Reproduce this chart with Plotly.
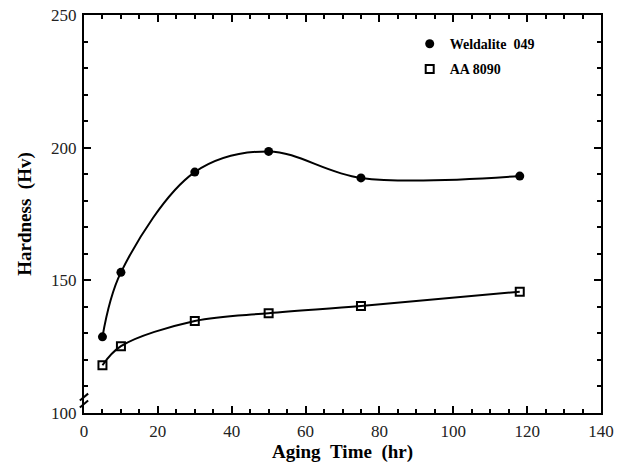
import plotly.graph_objects as go

aging_time = [5, 10, 30, 50, 75, 118]
weldalite_049 = [128.7, 153.0, 190.8, 198.6, 188.6, 189.3]
aa_8090 = [118.0, 125.2, 134.7, 137.6, 140.3, 145.7]

x_ticks = [0, 20, 40, 60, 80, 100, 120, 140]
y_ticks = [100, 150, 200, 250]

font_family = "Liberation Serif"
NB = "\u00a0"

fig = go.Figure()

# smooth curves
fig.add_trace(go.Scatter(x=aging_time, y=weldalite_049, mode="lines",
                         line=dict(color="black", width=2, shape="spline", smoothing=1.0),
                         showlegend=False, hoverinfo="skip"))
fig.add_trace(go.Scatter(x=aging_time, y=aa_8090, mode="lines",
                         line=dict(color="black", width=2, shape="spline", smoothing=1.0),
                         showlegend=False, hoverinfo="skip"))
# markers
fig.add_trace(go.Scatter(x=aging_time, y=weldalite_049, mode="markers",
                         name="<b>Weldalite" + NB + NB + "049</b>",
                         legendgroup="a",
                         marker=dict(symbol="circle", size=9, color="black")))
fig.add_trace(go.Scatter(x=aging_time, y=aa_8090, mode="markers",
                         name="<b>AA 8090</b>",
                         legendgroup="b",
                         marker=dict(symbol="square-open", size=8, color="black",
                                     line=dict(width=2, color="black"))))

axis_common = dict(showline=True, linecolor="black", linewidth=2, mirror="allticks",
                   ticks="inside", ticklen=7, tickwidth=2, tickcolor="black",
                   showgrid=False, zeroline=False, automargin=False,
                   tickfont=dict(family=font_family, size=17, color="#222"))

fig.update_xaxes(range=[0, 140], tickvals=x_ticks, ticklabelstandoff=2,
                 minor=dict(dtick=5, ticks="inside", ticklen=4, tickwidth=2, tickcolor="black"),
                 title=dict(text="<b>Aging" + NB + NB + "Time" + NB + NB + "(hr)</b>",
                            font=dict(family=font_family, size=19, color="black"), standoff=2),
                 **axis_common)
fig.update_yaxes(range=[100, 250], tickvals=y_ticks, ticklabelstandoff=2,
                 minor=dict(dtick=10, ticks="inside", ticklen=4, tickwidth=2, tickcolor="black"),
                 title=dict(text="<b>Hardness" + NB + NB + "(Hv)</b>",
                            font=dict(family=font_family, size=19, color="black"), standoff=14),
                 **axis_common)

# axis break marks on the y axis
for yy in (103.4, 106.0):
    fig.add_shape(type="line", xref="paper", yref="y", x0=-0.008, x1=0.008,
                  y0=yy - 1.3, y1=yy + 1.3, line=dict(color="black", width=2))

fig.update_layout(
    width=625, height=467,
    margin=dict(l=84, r=24, t=15, b=54),
    paper_bgcolor="white", plot_bgcolor="white",
    legend=dict(x=0.63, y=0.967, xanchor="left", yanchor="top",
                bgcolor="rgba(0,0,0,0)", tracegroupgap=4,
                font=dict(family=font_family, size=14, color="black")),
    font=dict(family=font_family, color="black"),
)

fig.write_html("out.html", config={"displayModeBar": False},
               post_script="document.body.style.margin='0';")
